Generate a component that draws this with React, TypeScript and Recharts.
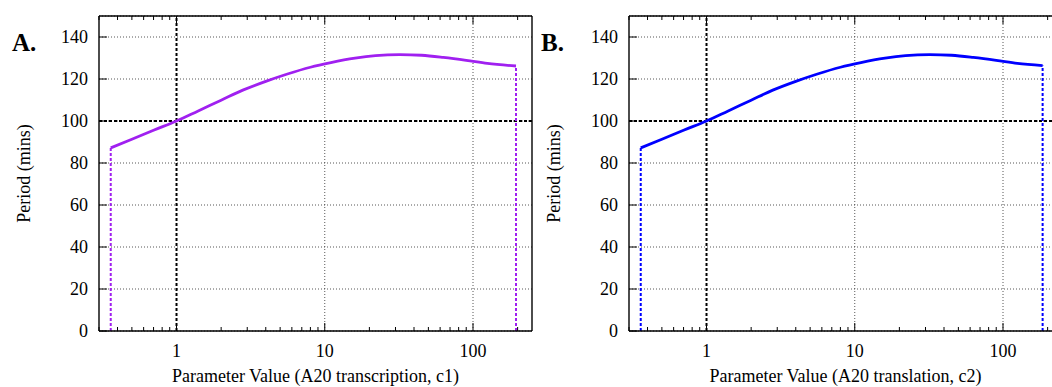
import { LineChart, Line, XAxis, YAxis, CartesianGrid, ReferenceLine, Label } from "recharts";

// parameter values (log axis) and oscillation period
const C1 = [0.36, 0.5, 0.7, 1, 1.4, 2, 2.8, 4, 5.6, 8, 11, 16, 22, 32, 45, 63, 90, 125, 195];
const PERIOD_A = [87.2, 91.3, 95.6, 100, 104.8, 109.9, 114.7, 118.9, 122.4, 125.6, 127.8, 129.9, 131.1, 131.6, 131.3, 130.3, 128.9, 127.4, 126.2];

const C2 = [0.36, 0.5, 0.7, 1, 1.4, 2, 2.8, 4, 5.6, 8, 11, 16, 22, 32, 45, 63, 90, 125, 185];
const PERIOD_B = [87.2, 91.3, 95.6, 100, 104.8, 109.9, 114.7, 118.9, 122.4, 125.6, 127.8, 129.9, 131.1, 131.6, 131.3, 130.3, 128.9, 127.4, 126.4];

const X_MAJOR = [1, 10, 100];
const X_MINOR = [0.3, 0.4, 0.5, 0.6, 0.7, 0.8, 0.9, 2, 3, 4, 5, 6, 7, 8, 9, 20, 30, 40, 50, 60, 70, 80, 90, 200];
const X_TICKS = [...X_MAJOR, ...X_MINOR].sort((a, b) => a - b);
const Y_TICKS = [0, 20, 40, 60, 80, 100, 120, 140];

const FONT = "'Liberation Serif', 'Times New Roman', serif";
const FS = 18;
const W = 545;
const H = 387;
const GAP = 13;

function BottomTick(props: any) {
  const { x, y, payload } = props;
  const major = X_MAJOR.includes(payload.value);
  const base = y - GAP;
  return (
    <g>
      <line x1={x} x2={x} y1={base} y2={base - (major ? 8 : 4)} stroke="#000" strokeWidth={1} />
      {major && (
        <text x={x} y={y} dy="0.71em" textAnchor="middle" style={{ fontFamily: FONT, fontSize: FS }} fill="#000">
          {payload.value}
        </text>
      )}
    </g>
  );
}

function TopTick(props: any) {
  const { x, y, payload } = props;
  const major = X_MAJOR.includes(payload.value);
  return <line x1={x} x2={x} y1={y} y2={y + (major ? 8 : 4)} stroke="#000" strokeWidth={1} />;
}

function LeftTick(props: any) {
  const { x, y, payload } = props;
  return (
    <g>
      <line x1={x + 11} x2={x + 19} y1={y} y2={y} stroke="#000" strokeWidth={1} />
      <text x={x} y={y} dy="0.355em" textAnchor="end" style={{ fontFamily: FONT, fontSize: FS }} fill="#000">
        {payload.value}
      </text>
    </g>
  );
}

function RightTick(props: any) {
  const { x, y } = props;
  return <line x1={x} x2={x - 8} y1={y} y2={y} stroke="#000" strokeWidth={1} />;
}

function Panel({ xs, ys, color, xLabel }: { xs: number[]; ys: number[]; color: string; xLabel: string }) {
  const rows = xs.map((x, i) => ({ x, y: ys[i] }));
  const first = rows[0];
  const last = rows[rows.length - 1];
  return (
    <LineChart width={W} height={H} data={rows} margin={{ top: 15, right: 12, bottom: 0, left: 10 }}>
      <CartesianGrid vertical={false} stroke="#444" strokeWidth={0.9} strokeDasharray="1 2" />
      {X_MAJOR.slice(1).map((v) => (
        <ReferenceLine key={v} x={v} stroke="#444" strokeWidth={0.9} strokeDasharray="1 2" />
      ))}
      <XAxis
        dataKey="x"
        type="number"
        scale="log"
        domain={[0.3, 250]}
        ticks={X_TICKS}
        interval={0}
        height={56}
        tickSize={0}
        tickMargin={GAP}
        tickLine={false}
        tick={BottomTick}
        axisLine={{ stroke: "#000", strokeWidth: 1.4 }}
      >
        <Label
          value={xLabel}
          position="insideBottom"
          offset={5}
          style={{ fontFamily: FONT, fontSize: FS }}
          fill="#000"
        />
      </XAxis>
      <XAxis
        xAxisId="top"
        orientation="top"
        dataKey="x"
        type="number"
        scale="log"
        domain={[0.3, 250]}
        ticks={X_TICKS}
        interval={0}
        height={1}
        tickSize={0}
        tickMargin={0}
        tickLine={false}
        tick={TopTick}
        axisLine={{ stroke: "#000", strokeWidth: 1.4 }}
      />
      <YAxis
        type="number"
        domain={[0, 150]}
        ticks={Y_TICKS}
        interval={0}
        width={89}
        tickSize={0}
        tickMargin={11}
        tickLine={false}
        tick={LeftTick}
        axisLine={{ stroke: "#000", strokeWidth: 1.4 }}
      >
        <Label
          value="Period (mins)"
          angle={-90}
          position="insideLeft"
          offset={14}
          fill="#000"
          style={{ textAnchor: "middle", fontFamily: FONT, fontSize: FS }}
        />
      </YAxis>
      <YAxis
        yAxisId="right"
        orientation="right"
        type="number"
        domain={[0, 150]}
        ticks={Y_TICKS}
        interval={0}
        width={1}
        tickSize={0}
        tickMargin={0}
        tickLine={false}
        tick={RightTick}
        axisLine={{ stroke: "#000", strokeWidth: 1.4 }}
      />
      <ReferenceLine x={1} stroke="#000" strokeWidth={2} strokeDasharray="3 2" />
      <ReferenceLine y={100} stroke="#000" strokeWidth={2} strokeDasharray="3 2" />
      <ReferenceLine
        segment={[
          { x: first.x, y: 0 },
          { x: first.x, y: first.y },
        ]}
        stroke={color}
        strokeWidth={2}
        strokeDasharray="3 2"
      />
      <ReferenceLine
        segment={[
          { x: last.x, y: 0 },
          { x: last.x, y: last.y },
        ]}
        stroke={color}
        strokeWidth={2}
        strokeDasharray="3 2"
      />
      <Line
        type="monotone"
        dataKey="y"
        stroke={color}
        strokeWidth={2.8}
        dot={false}
        isAnimationActive={false}
      />
    </LineChart>
  );
}

export default function App() {
  return (
    <div
      style={{
        position: "fixed",
        left: 0,
        top: 0,
        width: 1052,
        height: 387,
        overflow: "hidden",
        background: "#fff",
      }}
    >
      <div style={{ position: "absolute", left: 0, top: 0 }}>
        <Panel xs={C1} ys={PERIOD_A} color="#a020f0" xLabel="Parameter Value (A20 transcription, c1)" />
      </div>
      <div style={{ position: "absolute", left: 530, top: 0 }}>
        <Panel xs={C2} ys={PERIOD_B} color="#0000ff" xLabel="Parameter Value (A20 translation, c2)" />
      </div>
      <svg width={1052} height={387} style={{ position: "absolute", left: 0, top: 0, pointerEvents: "none" }}>
        <text x={12} y={51} style={{ fontFamily: FONT, fontSize: 25, fontWeight: "bold" }} fill="#000">
          A.
        </text>
        <text x={541} y={51} style={{ fontFamily: FONT, fontSize: 25, fontWeight: "bold" }} fill="#000">
          B.
        </text>
      </svg>
    </div>
  );
}
